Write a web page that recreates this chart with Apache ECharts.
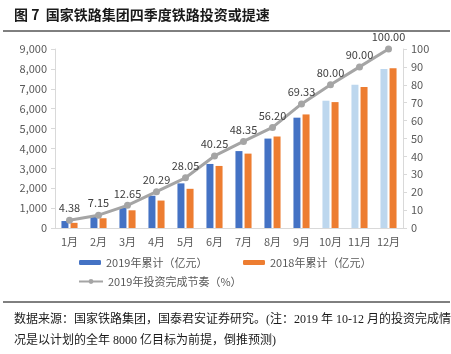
<!DOCTYPE html>
<html>
<head>
<meta charset="utf-8">
<script src="https://cdn.jsdelivr.net/npm/echarts@6/dist/echarts.min.js"></script>
<style>
  html, body { margin: 0; padding: 0; background: #fff; }
  #chart { width: 451px; height: 354px; }
</style>
</head>
<body>
<div id="chart"></div>
<script>
var months = ['1月', '2月', '3月', '4月', '5月', '6月', '7月', '8月', '9月', '10月', '11月', '12月'];
var cum2019 = [350, 572, 1012, 1623, 2244, 3220, 3867, 4496, 5547, 6400, 7200, 8000];
var cum2018 = [260, 490, 890, 1380, 1970, 3120, 3740, 4600, 5710, 6330, 7090, 8028];
var pace2019 = [4.38, 7.15, 12.65, 20.29, 28.05, 40.25, 48.35, 56.20, 69.33, 80.00, 90.00, 100.00];
var forecastFrom = 9; // index of 10月, bars from here are forecasts

var font = '"Noto Sans CJK SC", "Noto Sans", sans-serif';
var blue = '#4472C4', lightBlue = '#BDD7EE', orange = '#ED7D31', grey = '#A5A5A5';

var bars2019 = cum2019.map(function (v, i) {
    return i >= forecastFrom ? { value: v, itemStyle: { color: lightBlue } } : v;
});

var chart = echarts.init(document.getElementById('chart'));
chart.setOption({
    animation: false,
    textStyle: { fontFamily: font },
    title: [{
        text: '图 7  国家铁路集团四季度铁路投资或提速',
        left: 9, top: 3,
        textStyle: { fontSize: 14, fontWeight: 'bold', color: '#1a1a1a', fontFamily: font }
    }, {
        text: '数据来源：国家铁路集团，国泰君安证券研究。(注：2019 年 10-12 月的投资完成情\n况是以计划的全年 8000 亿目标为前提，倒推预测)',
        left: 9, top: 304,
        textStyle: { fontSize: 12, fontWeight: 'normal', color: '#1a1a1a', lineHeight: 21,
            fontFamily: '"Liberation Serif", "Noto Sans CJK SC", serif' }
    }],
    graphic: [
        { type: 'line', shape: { x1: 3, y1: 31, x2: 450, y2: 31 }, style: { stroke: '#000', lineWidth: 1 } },
        { type: 'line', shape: { x1: 3, y1: 302, x2: 450, y2: 302 }, style: { stroke: '#000', lineWidth: 1 } }
    ],
    legend: [{
        data: ['2019年累计（亿元）'], left: 74, top: 252,
        itemWidth: 22, itemHeight: 5, itemGap: 3,
        textStyle: { fontSize: 11, color: '#595959' }
    }, {
        data: ['2018年累计（亿元）'], left: 238, top: 252,
        itemWidth: 22, itemHeight: 5, itemGap: 3,
        textStyle: { fontSize: 11, color: '#595959' }
    }, {
        data: ['2019年投资完成节奏（%）'], left: 73, top: 271,
        itemWidth: 24, itemHeight: 6, itemGap: 3,
        lineStyle: { width: 2 },
        textStyle: { fontSize: 11, color: '#595959' }
    }],
    grid: { left: 55, right: 48, top: 49, bottom: 126 },
    xAxis: {
        type: 'category',
        data: months,
        axisLine: { lineStyle: { color: '#D9D9D9' } },
        axisTick: { show: false },
        axisLabel: { interval: 0, fontSize: 11, color: '#595959', margin: 8 }
    },
    yAxis: [{
        type: 'value', min: 0, max: 9000, interval: 1000,
        axisLine: { show: true, lineStyle: { color: '#D9D9D9' } },
        axisTick: { show: true, length: 4, lineStyle: { color: '#D9D9D9' } },
        splitLine: { show: false },
        axisLabel: { fontSize: 11, color: '#595959', margin: 8,
            formatter: function (v) { return v.toLocaleString('en-US'); } }
    }, {
        type: 'value', min: 0, max: 100, interval: 10,
        axisLine: { show: true, lineStyle: { color: '#D9D9D9' } },
        axisTick: { show: true, length: 4, lineStyle: { color: '#D9D9D9' } },
        splitLine: { show: false },
        axisLabel: { fontSize: 11, color: '#595959', margin: 8 }
    }],
    series: [{
        name: '2019年累计（亿元）',
        type: 'bar',
        data: bars2019,
        barWidth: 7,
        barGap: '30%',
        itemStyle: { color: blue }
    }, {
        name: '2018年累计（亿元）',
        type: 'bar',
        data: cum2018,
        barWidth: 7,
        itemStyle: { color: orange }
    }, {
        name: '2019年投资完成节奏（%）',
        type: 'line',
        yAxisIndex: 1,
        data: pace2019,
        symbol: 'circle',
        symbolSize: 7,
        lineStyle: { color: grey, width: 3 },
        itemStyle: { color: grey },
        label: {
            show: true, position: 'top', distance: 3,
            fontSize: 11, color: '#404040',
            formatter: function (p) { return p.value.toFixed(2); }
        }
    }]
});
</script>
</body>
</html>
